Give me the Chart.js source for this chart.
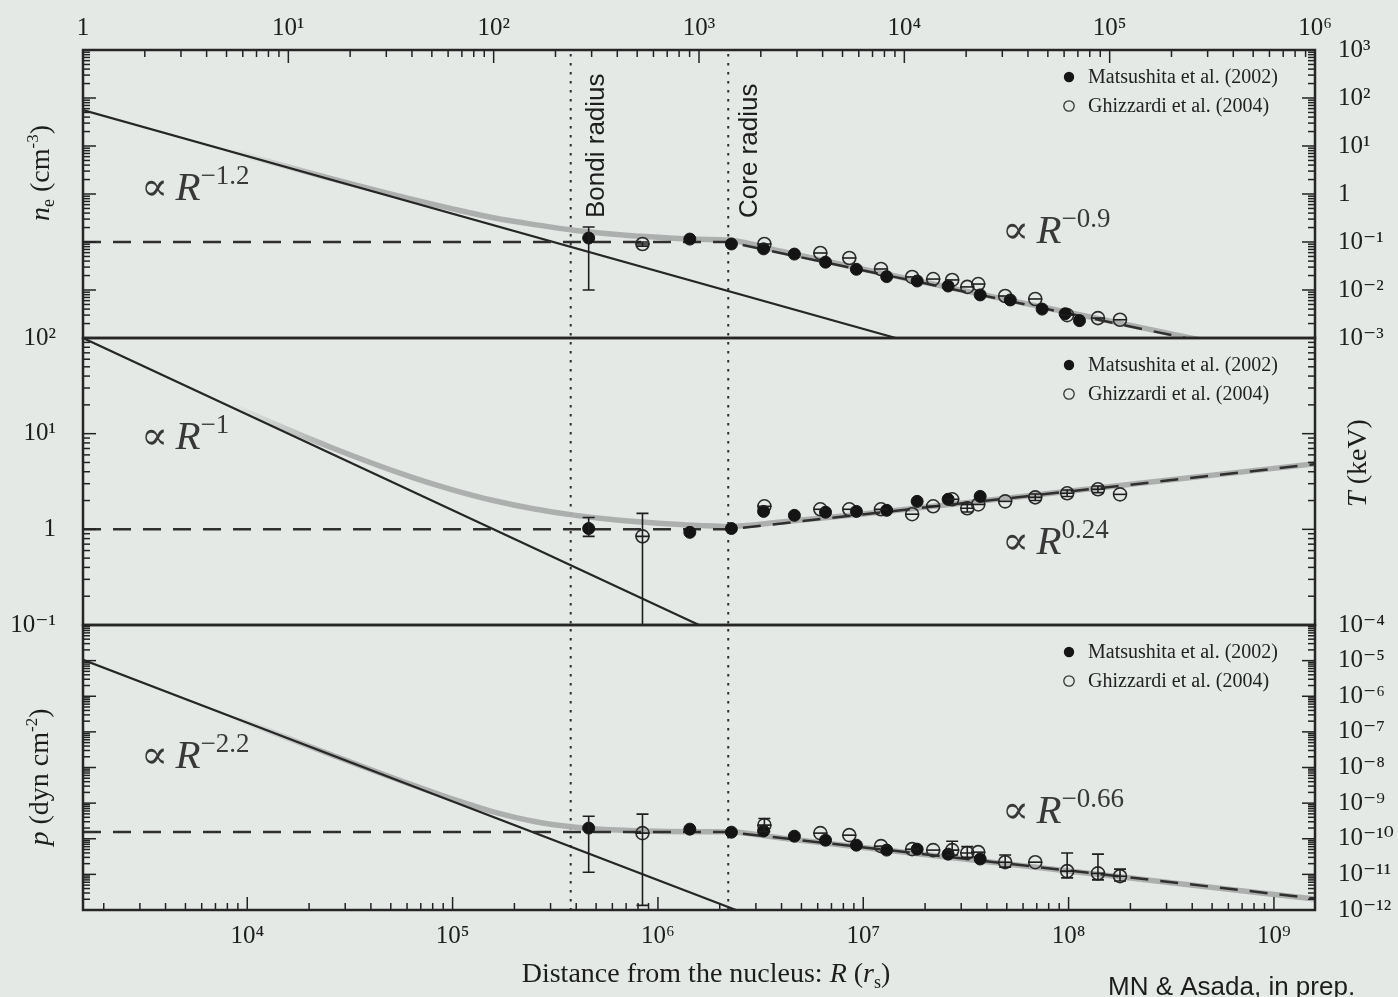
<!DOCTYPE html>
<html>
<head>
<meta charset="utf-8">
<title>Radial profiles: n_e, T and p</title>
<script src="https://cdn.jsdelivr.net/npm/chart.js@4.4.1/dist/chart.umd.min.js"></script>
<style>
  html, body { margin: 0; padding: 0; background: #e4e9e6; }
  #fig { position: relative; width: 1398px; height: 997px; overflow: hidden; background: #e4e9e6; }
  #fig canvas { position: absolute; left: 0; top: 0; }
</style>
</head>
<body>
<div id="fig">
  <canvas id="neChart" width="1398" height="997"></canvas>
  <canvas id="tChart" width="1398" height="997"></canvas>
  <canvas id="pChart" width="1398" height="997"></canvas>
</div>
<script>
// --- axis ranges ---
const R_MIN = 1585, R_MAX = 1.585e9;      // bottom axis, R in r_s
const TOP_MIN = 1, TOP_MAX = 1e6;         // top axis
const neRange = [1e-3, 1e3];
const tRange = [0.1, 100];
const pRange = [1e-12, 1e-4];

// --- characteristic radii (r_s) ---
const bondiR = 3.76e5;
const coreR = 2.2e6;

// --- Matsushita et al. (2002) ---
const matR  = [4.6e5, 1.43e6, 2.28e6, 3.27e6, 4.62e6, 6.55e6, 9.26e6, 1.30e7, 1.83e7, 2.59e7, 3.71e7, 5.20e7, 7.43e7, 9.62e7, 1.13e8];
const matNe = [0.121, 0.115, 0.091, 0.072, 0.056, 0.038, 0.027, 0.019, 0.0154, 0.0121, 0.0079, 0.0062, 0.0040, 0.0032, 0.0023];
const matNeLo = [0.010];
const matNeHi = [0.205];
const matT  = [1.02, 0.93, 1.02, 1.54, 1.40, 1.51, 1.54, 1.58, 1.96, 2.06, 2.21];
const matTLo = [0.845];
const matTHi = [1.33];
const matP  = [1.99e-10, 1.86e-10, 1.53e-10, 1.65e-10, 1.18e-10, 9.1e-11, 6.6e-11, 4.8e-11, 5.1e-11, 3.7e-11, 2.7e-11];
const matPLo = [1.15e-11];
const matPHi = [4.3e-10];

// --- Ghizzardi et al. (2004) ---
const ghzR  = [8.41e5, 3.30e6, 6.18e6, 8.55e6, 1.22e7, 1.73e7, 2.19e7, 2.71e7, 3.21e7, 3.63e7, 4.91e7, 6.88e7, 9.84e7, 1.39e8, 1.78e8];
const ghzNe = [0.0908, 0.0908, 0.059, 0.0464, 0.0274, 0.0187, 0.0169, 0.0162, 0.0116, 0.0133, 0.0075, 0.0065, 0.0030, 0.0026, 0.0024];
const ghzNeLo = [0.082];
const ghzNeHi = [0.100];
const ghzT  = [0.845, 1.74, 1.62, 1.62, 1.62, 1.44, 1.74, 2.06, 1.66, 1.82, 1.96, 2.16, 2.38, 2.62, 2.32];
const ghzTLo = [0.09, null, null, null, null, null, null, null, 1.52, null, null, 2.0, 2.2, 2.42];
const ghzTHi = [1.47, null, null, null, null, null, null, null, 1.82, null, null, 2.34, 2.58, 2.84];
const ghzP  = [1.44e-10, 2.41e-10, 1.44e-10, 1.26e-10, 6.2e-11, 5.1e-11, 4.8e-11, 4.8e-11, 4.0e-11, 4.2e-11, 2.2e-11, 2.2e-11, 1.23e-11, 1.07e-11, 8.9e-12];
const ghzPLo = [1.35e-12, 1.6e-10, null, null, null, null, null, 3.5e-11, 3.0e-11, null, 1.6e-11, null, 8e-12, 7e-12, 6.5e-12];
const ghzPHi = [4.9e-10, 3.7e-10, null, null, null, null, null, 8.5e-11, 6.0e-11, null, 3.5e-11, null, 4.0e-11, 3.7e-11, 1.4e-11];

// --- inner power laws (black lines) ---
const powNeR = [1585, 1.44e7];
const powNe  = [56, 1e-3];
const powTR  = [1585, 1.585e6];
const powT   = [100, 0.1];
const powPR  = [1585, 2.4e6];
const powP   = [1.05e-5, 1e-12];

// --- broken power laws (dashed) ---
const brkNeR = [1585, 2.2e6, 3.7e8];
const brkNe  = [0.1, 0.1, 1e-3];
const brkR   = [1585, 2.2e6, 1.585e9];
const brkT   = [1, 1, 4.8];
const brkP   = [1.55e-10, 1.55e-10, 2.1e-12];

// --- combined profiles (thick grey) ---
const sumR  = [1585, 1e4, 2.51e4, 6.31e4, 1e5, 1.58e5, 2.51e5, 3.98e5, 6.31e5, 1e6, 1.58e6, 2.2e6, 3.98e6, 1e7, 3.16e7, 1e8, 3.16e8, 1.585e9];
const sumNe = [56.3, 6.27, 2.14, 0.78, 0.49, 0.32, 0.23, 0.174, 0.143, 0.125, 0.114, 0.11, 0.064, 0.027, 0.0095, 0.0034, 0.00122, 0.00029];
const sumT  = [101, 16.8, 7.31, 3.51, 2.59, 2.0, 1.63, 1.40, 1.25, 1.16, 1.10, 1.07, 1.19, 1.45, 1.9, 2.5, 3.29, 4.84];
const sumP  = [1.05e-5, 1.82e-7, 2.4e-8, 3.3e-9, 1.3e-9, 5.7e-10, 3.06e-10, 2.1e-10, 1.75e-10, 1.62e-10, 1.58e-10, 1.56e-10, 1.05e-10, 5.7e-11, 2.67e-11, 1.25e-11, 5.85e-12, 2.02e-12];

// --- styling ---
const SERIF = "'Liberation Serif', 'DejaVu Serif', serif";
const SANS = "'Liberation Sans', 'DejaVu Sans', sans-serif";
const INK = '#1d1d1d';
const GREY = 'rgba(170,172,171,0.95)';

Chart.defaults.animation = false;
Chart.defaults.events = [];
Chart.defaults.font.family = SERIF;

const SUP = { '-': '\u207B', '0': '\u2070', '1': '\u00B9', '2': '\u00B2', '3': '\u00B3', '4': '\u2074',
              '5': '\u2075', '6': '\u2076', '7': '\u2077', '8': '\u2078', '9': '\u2079' };

const pts = (xs, ys) => ys.map((y, i) => ({ x: xs[i], y }));

// minor ticks at 2..9, major at each decade
function decadeTicks(scale) {
  const lo = scale.min, hi = scale.max, ticks = [];
  for (let e = Math.floor(Math.log10(lo)); e <= Math.ceil(Math.log10(hi)); e++) {
    for (let m = 1; m < 10; m++) {
      const v = m * Math.pow(10, e);
      if (v >= lo * 0.999 && v <= hi * 1.001) ticks.push({ value: v, major: m === 1 });
    }
  }
  scale.ticks = ticks;
}

function decadeLabel(value, index, ticks) {
  if (!ticks[index] || !ticks[index].major) return '';
  const e = Math.round(Math.log10(value));
  if (e === 0) return '1';
  return '10' + String(e).split('').map(c => SUP[c]).join('');
}

function logAxis(pos, min, max, labels, pad, size) {
  const vertical = pos === 'left' || pos === 'right';
  return {
    type: 'logarithmic', position: pos, min, max,
    afterBuildTicks: decadeTicks,
    afterFit: s => { if (vertical) s.width = size; else s.height = size; },
    grid: { display: false, drawTicks: false },
    border: { display: false },
    ticks: {
      display: labels, autoSkip: false, maxRotation: 0, minRotation: 0, padding: pad,
      callback: decadeLabel, color: INK, font: { family: SERIF, size: 25 }
    }
  };
}

// the grey sum hides under the inner power law until the two part
function greyFade(context) {
  const chart = context.chart;
  const a = chart.chartArea;
  if (!a) return GREY;
  const g = chart.ctx.createLinearGradient(a.left, 0, a.right, 0);
  g.addColorStop(0, 'rgba(170,172,171,0)');
  g.addColorStop(0.12, 'rgba(170,172,171,0)');
  g.addColorStop(0.2, GREY);
  g.addColorStop(1, GREY);
  return g;
}

// draws a run of text pieces [text, font, dy] starting at x (or centred on x)
function drawRuns(ctx, runs, x, y, centred) {
  let w = 0;
  runs.forEach(r => { ctx.font = r[1]; w += ctx.measureText(r[0]).width; });
  let cx = centred ? x - w / 2 : x;
  runs.forEach(r => {
    ctx.font = r[1];
    ctx.fillText(r[0], cx, y + (r[2] || 0));
    cx += ctx.measureText(r[0]).width;
  });
}

function proportional(exp) {
  return [
    ['\u221D', '40px ' + SERIF],
    [' ', '30px ' + SERIF],
    ['R', 'italic 41px ' + SERIF],
    [exp, '27px ' + SERIF, -16]
  ];
}

// frame, inward ticks, reference radii, error bars, legend and labels
function decor(spec) {
  return {
    id: 'decor',
    beforeDatasetsDraw(chart) {
      const { ctx, chartArea: a, scales } = chart;
      ctx.save();
      ctx.strokeStyle = '#2e2e2e';
      ctx.lineWidth = 2;
      ctx.setLineDash([2.5, 6.5]);
      [bondiR, coreR].forEach(r => {
        const x = scales.x.getPixelForValue(r);
        ctx.beginPath(); ctx.moveTo(x, a.top + 4); ctx.lineTo(x, a.bottom); ctx.stroke();
      });
      ctx.restore();
    },
    afterDatasetsDraw(chart) {
      const { ctx, chartArea: a, scales } = chart;
      ctx.save();
      ctx.beginPath(); ctx.rect(a.left, a.top, a.right - a.left, a.bottom - a.top); ctx.clip();
      ctx.strokeStyle = '#1e1e1e';
      ctx.lineWidth = 1.6;
      chart.data.datasets.forEach(ds => {
        if (!ds.errLo) return;
        ds.data.forEach((p, j) => {
          const x = scales.x.getPixelForValue(p.x);
          ctx.beginPath();
          if (ds.crossBar) {
            const yc = scales.y.getPixelForValue(p.y);
            ctx.moveTo(x - 7, yc); ctx.lineTo(x + 7, yc);
          }
          const lo = ds.errLo[j], hi = ds.errHi[j];
          if (lo != null && hi != null) {
            const y1 = scales.y.getPixelForValue(lo), y2 = scales.y.getPixelForValue(hi);
            ctx.moveTo(x, y1); ctx.lineTo(x, y2);
            ctx.moveTo(x - 6, y1); ctx.lineTo(x + 6, y1);
            ctx.moveTo(x - 6, y2); ctx.lineTo(x + 6, y2);
          }
          ctx.stroke();
        });
      });
      ctx.restore();
    },
    afterDraw(chart) {
      const { ctx, chartArea: a, scales } = chart;
      ctx.save();

      // inward ticks
      ctx.strokeStyle = '#222';
      ctx.lineWidth = 1.5;
      Object.entries(spec.tickSides).forEach(([id, side]) => {
        const s = scales[id];
        s.ticks.forEach(t => {
          const len = t.major ? 13 : 7;
          const v = s.getPixelForValue(t.value);
          ctx.beginPath();
          if (side === 'left' || side === 'right') {
            if (v < a.top - 0.5 || v > a.bottom + 0.5) return;
            const x0 = side === 'left' ? a.left : a.right;
            const x1 = side === 'left' ? a.left + len : a.right - len;
            ctx.moveTo(x0, v); ctx.lineTo(x1, v);
          } else {
            if (v < a.left - 0.5 || v > a.right + 0.5) return;
            const y0 = side === 'top' ? a.top : a.bottom;
            const y1 = side === 'top' ? a.top + len : a.bottom - len;
            ctx.moveTo(v, y0); ctx.lineTo(v, y1);
          }
          ctx.stroke();
        });
      });

      // panel frame
      ctx.strokeStyle = '#262626';
      ctx.lineWidth = 2.5;
      ctx.strokeRect(a.left, a.top, a.right - a.left, a.bottom - a.top);

      // legend
      ctx.textBaseline = 'alphabetic';
      const entries = chart.data.datasets.filter(d => d.inLegend);
      entries.forEach((ds, i) => {
        const mx = a.right - 246, my = a.top + 27 + i * 29;
        ctx.beginPath();
        ctx.arc(mx, my, 5.2, 0, Math.PI * 2);
        if (ds.filled) { ctx.fillStyle = '#151515'; ctx.fill(); }
        else { ctx.strokeStyle = '#333'; ctx.lineWidth = 1.3; ctx.stroke(); }
        ctx.fillStyle = '#222';
        ctx.font = '20px ' + SERIF;
        ctx.fillText(ds.label, mx + 19, my + 6);
      });

      // power-law notes
      ctx.fillStyle = '#383838';
      spec.notes.forEach(n => drawRuns(ctx, proportional(n.exp), a.left + n.dx, a.top + n.dy, false));

      // free texts (absolute page positions)
      ctx.fillStyle = INK;
      (spec.texts || []).forEach(t => {
        ctx.save();
        ctx.translate(t.x, t.y);
        if (t.rotate) ctx.rotate(-Math.PI / 2);
        drawRuns(ctx, t.runs, 0, 0, t.centred);
        ctx.restore();
      });

      // radius labels along the dotted lines
      (spec.radiusLabels || []).forEach(l => {
        ctx.save();
        ctx.translate(scales.x.getPixelForValue(l.r) + l.off, a.top + 168);
        ctx.rotate(-Math.PI / 2);
        ctx.font = '26px ' + SANS;
        ctx.fillStyle = '#1e1e1e';
        ctx.fillText(l.text, 0, 0);
        ctx.restore();
      });
      ctx.restore();
    }
  };
}

function panelDatasets(p) {
  return [
    { label: 'Matsushita et al. (2002)', data: pts(matR, p.mat), showLine: false, filled: true, inLegend: true,
      pointRadius: 6, pointBackgroundColor: '#141414', pointBorderColor: '#141414', pointBorderWidth: 1,
      borderColor: '#141414', backgroundColor: '#141414', errLo: p.matLo, errHi: p.matHi, order: 1 },
    { label: 'Ghizzardi et al. (2004)', data: pts(ghzR, p.ghz), showLine: false, filled: false, inLegend: true,
      pointRadius: 6.5, pointBackgroundColor: 'rgba(0,0,0,0)', pointBorderColor: '#2c2c2c', pointBorderWidth: 1.6,
      borderColor: '#2c2c2c', backgroundColor: 'rgba(0,0,0,0)', errLo: p.ghzLo, errHi: p.ghzHi, crossBar: true, order: 2 },
    { label: 'broken power law', data: pts(p.brkR, p.brk), pointRadius: 0, borderColor: '#2f2f2f',
      borderWidth: 2.5, borderDash: [18, 12], fill: false, order: 3 },
    { label: 'inner power law', data: pts(p.powR, p.pow), pointRadius: 0, borderColor: '#262626',
      borderWidth: 2.2, fill: false, order: 4 },
    { label: 'sum', data: pts(sumR, p.sum), pointRadius: 0, borderColor: greyFade,
      borderWidth: 5.5, cubicInterpolationMode: 'monotone', fill: false, order: 5 }
  ];
}

function panelChart(canvasId, datasets, scales, padding, spec) {
  return new Chart(document.getElementById(canvasId), {
    type: 'line',
    data: { datasets },
    options: {
      responsive: false,
      maintainAspectRatio: false,
      devicePixelRatio: 1,
      layout: { padding },
      plugins: { legend: { display: false }, tooltip: { enabled: false }, colors: { enabled: false } },
      scales
    },
    plugins: [decor(spec)]
  });
}

const hiddenX = { type: 'logarithmic', min: R_MIN, max: R_MAX, display: false };

// electron density
panelChart('neChart',
  panelDatasets({ mat: matNe, matLo: matNeLo, matHi: matNeHi, ghz: ghzNe, ghzLo: ghzNeLo, ghzHi: ghzNeHi,
                  brkR: brkNeR, brk: brkNe, powR: powNeR, pow: powNe, sum: sumNe }),
  {
    x: hiddenX,
    xTop: logAxis('top', TOP_MIN, TOP_MAX, true, 7, 50),
    y: logAxis('left', neRange[0], neRange[1], false, 27, 83),
    y2: logAxis('right', neRange[0], neRange[1], true, 23, 83)
  },
  { top: 0, bottom: 659, left: 0, right: 0 },
  {
    tickSides: { y: 'left', y2: 'right', xTop: 'top' },
    notes: [{ dx: 58, dy: 150, exp: '\u22121.2' }, { dx: 919, dy: 193, exp: '\u22120.9' }],
    radiusLabels: [{ r: bondiR, text: 'Bondi radius', off: 33 }, { r: coreR, text: 'Core radius', off: 29 }],
    texts: [{ x: 49, y: 173, rotate: true, centred: true, runs: [
      ['n', 'italic 28px ' + SERIF], ['e', '18px ' + SERIF, 5], [' (cm', '28px ' + SERIF],
      ['-3', '17px ' + SERIF, -11], [')', '28px ' + SERIF]] }]
  });

// temperature
panelChart('tChart',
  panelDatasets({ mat: matT, matLo: matTLo, matHi: matTHi, ghz: ghzT, ghzLo: ghzTLo, ghzHi: ghzTHi,
                  brkR: brkR, brk: brkT, powR: powTR, pow: powT, sum: sumT }),
  {
    x: hiddenX,
    y: logAxis('left', tRange[0], tRange[1], true, 27, 83),
    y2: logAxis('right', tRange[0], tRange[1], false, 23, 83)
  },
  { top: 338, bottom: 372, left: 0, right: 0 },
  {
    tickSides: { y: 'left', y2: 'right' },
    notes: [{ dx: 58, dy: 111, exp: '\u22121' }, { dx: 919, dy: 216, exp: '0.24' }],
    texts: [{ x: 1366, y: 463, rotate: true, centred: true, runs: [
      ['T', 'italic 28px ' + SERIF], [' (keV)', '28px ' + SERIF]] }]
  });

// pressure
panelChart('pChart',
  panelDatasets({ mat: matP, matLo: matPLo, matHi: matPHi, ghz: ghzP, ghzLo: ghzPLo, ghzHi: ghzPHi,
                  brkR: brkR, brk: brkP, powR: powPR, pow: powP, sum: sumP }),
  {
    x: logAxis('bottom', R_MIN, R_MAX, true, 11, 87),
    y: logAxis('left', pRange[0], pRange[1], false, 27, 83),
    y2: logAxis('right', pRange[0], pRange[1], true, 23, 83)
  },
  { top: 625, bottom: 0, left: 0, right: 0 },
  {
    tickSides: { y: 'left', y2: 'right', x: 'bottom' },
    notes: [{ dx: 58, dy: 143, exp: '\u22122.2' }, { dx: 919, dy: 198, exp: '\u22120.66' }],
    texts: [
      { x: 48, y: 777, rotate: true, centred: true, runs: [
        ['p', 'italic 28px ' + SERIF], [' (dyn cm', '28px ' + SERIF], ['-2', '17px ' + SERIF, -11],
        [')', '28px ' + SERIF]] },
      { x: 706, y: 982, centred: true, runs: [
        ['Distance from the nucleus: ', '28px ' + SERIF], ['R', 'italic 28px ' + SERIF], [' (', '28px ' + SERIF],
        ['r', 'italic 28px ' + SERIF], ['s', '18px ' + SERIF, 6], [')', '28px ' + SERIF]] },
      { x: 1108, y: 995, centred: false, runs: [['MN & Asada, in prep.', '26px ' + SANS]] }
    ]
  });
</script>
</body>
</html>
